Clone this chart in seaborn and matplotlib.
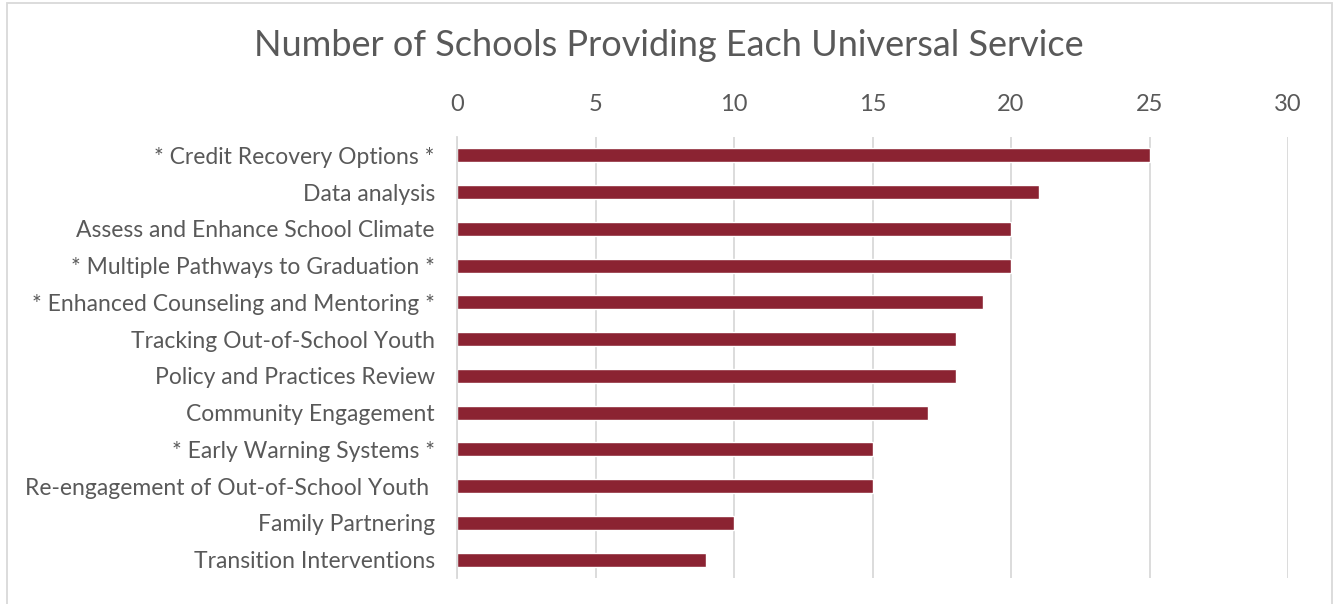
import matplotlib
matplotlib.use("Agg")
import matplotlib.pyplot as plt
import seaborn as sns
import pandas as pd
from matplotlib.patches import Rectangle

services = [
    "* Credit Recovery Options *",
    "Data analysis",
    "Assess and Enhance School Climate",
    "* Multiple Pathways to Graduation *",
    "* Enhanced Counseling and Mentoring *",
    "Tracking Out-of-School Youth",
    "Policy and Practices Review",
    "Community Engagement",
    "* Early Warning Systems *",
    "Re-engagement of Out-of-School Youth ",
    "Family Partnering",
    "Transition Interventions",
]
schools = [25, 21, 20, 20, 19, 18, 18, 17, 15, 15, 10, 9]
x_ticks = [0, 5, 10, 15, 20, 25, 30]

df = pd.DataFrame({"service": services, "schools": schools})

sns.set_theme(style="white")
plt.rcParams["font.family"] = ["Lato", "DejaVu Sans"]

text_color = "#595959"
grid_color = "#D9D9D9"
bar_color = "#8B2332"

fig = plt.figure(figsize=(13.38, 6.04), dpi=100)
ax = fig.add_axes([457 / 1338, 1 - 578 / 604, (1288 - 457) / 1338, (578 - 137) / 604])

sns.barplot(data=df, x="schools", y="service", orient="h", color=bar_color,
            width=0.38, saturation=1, ax=ax)

ax.set_xlim(0, 30)
ax.set_ylim(len(services) - 0.5, -0.5)
ax.set_xticks(x_ticks)
ax.xaxis.tick_top()
ax.xaxis.set_label_position("top")
ax.set_xlabel("")
ax.set_ylabel("")
ax.tick_params(axis="x", length=0, pad=16, labelsize=17, labelcolor=text_color)
ax.tick_params(axis="y", length=0, pad=16, labelsize=16.5, labelcolor=text_color)

ax.grid(axis="x", color=grid_color, linewidth=1.3)
ax.set_axisbelow(True)
for side in ["top", "right", "bottom"]:
    ax.spines[side].set_visible(False)
ax.spines["left"].set_color(grid_color)
ax.spines["left"].set_linewidth(1.3)

fig.text(0.5, 1 - 45 / 604, "Number of Schools Providing Each Universal Service",
         ha="center", va="center", fontsize=26, color=text_color)

fig.patches.append(Rectangle((7 / 1338, -0.02), (1332 - 7) / 1338, 1.02 - 3 / 604,
                             transform=fig.transFigure, fill=False,
                             edgecolor=grid_color, linewidth=1.3))

fig.savefig("out.png", dpi=100)
